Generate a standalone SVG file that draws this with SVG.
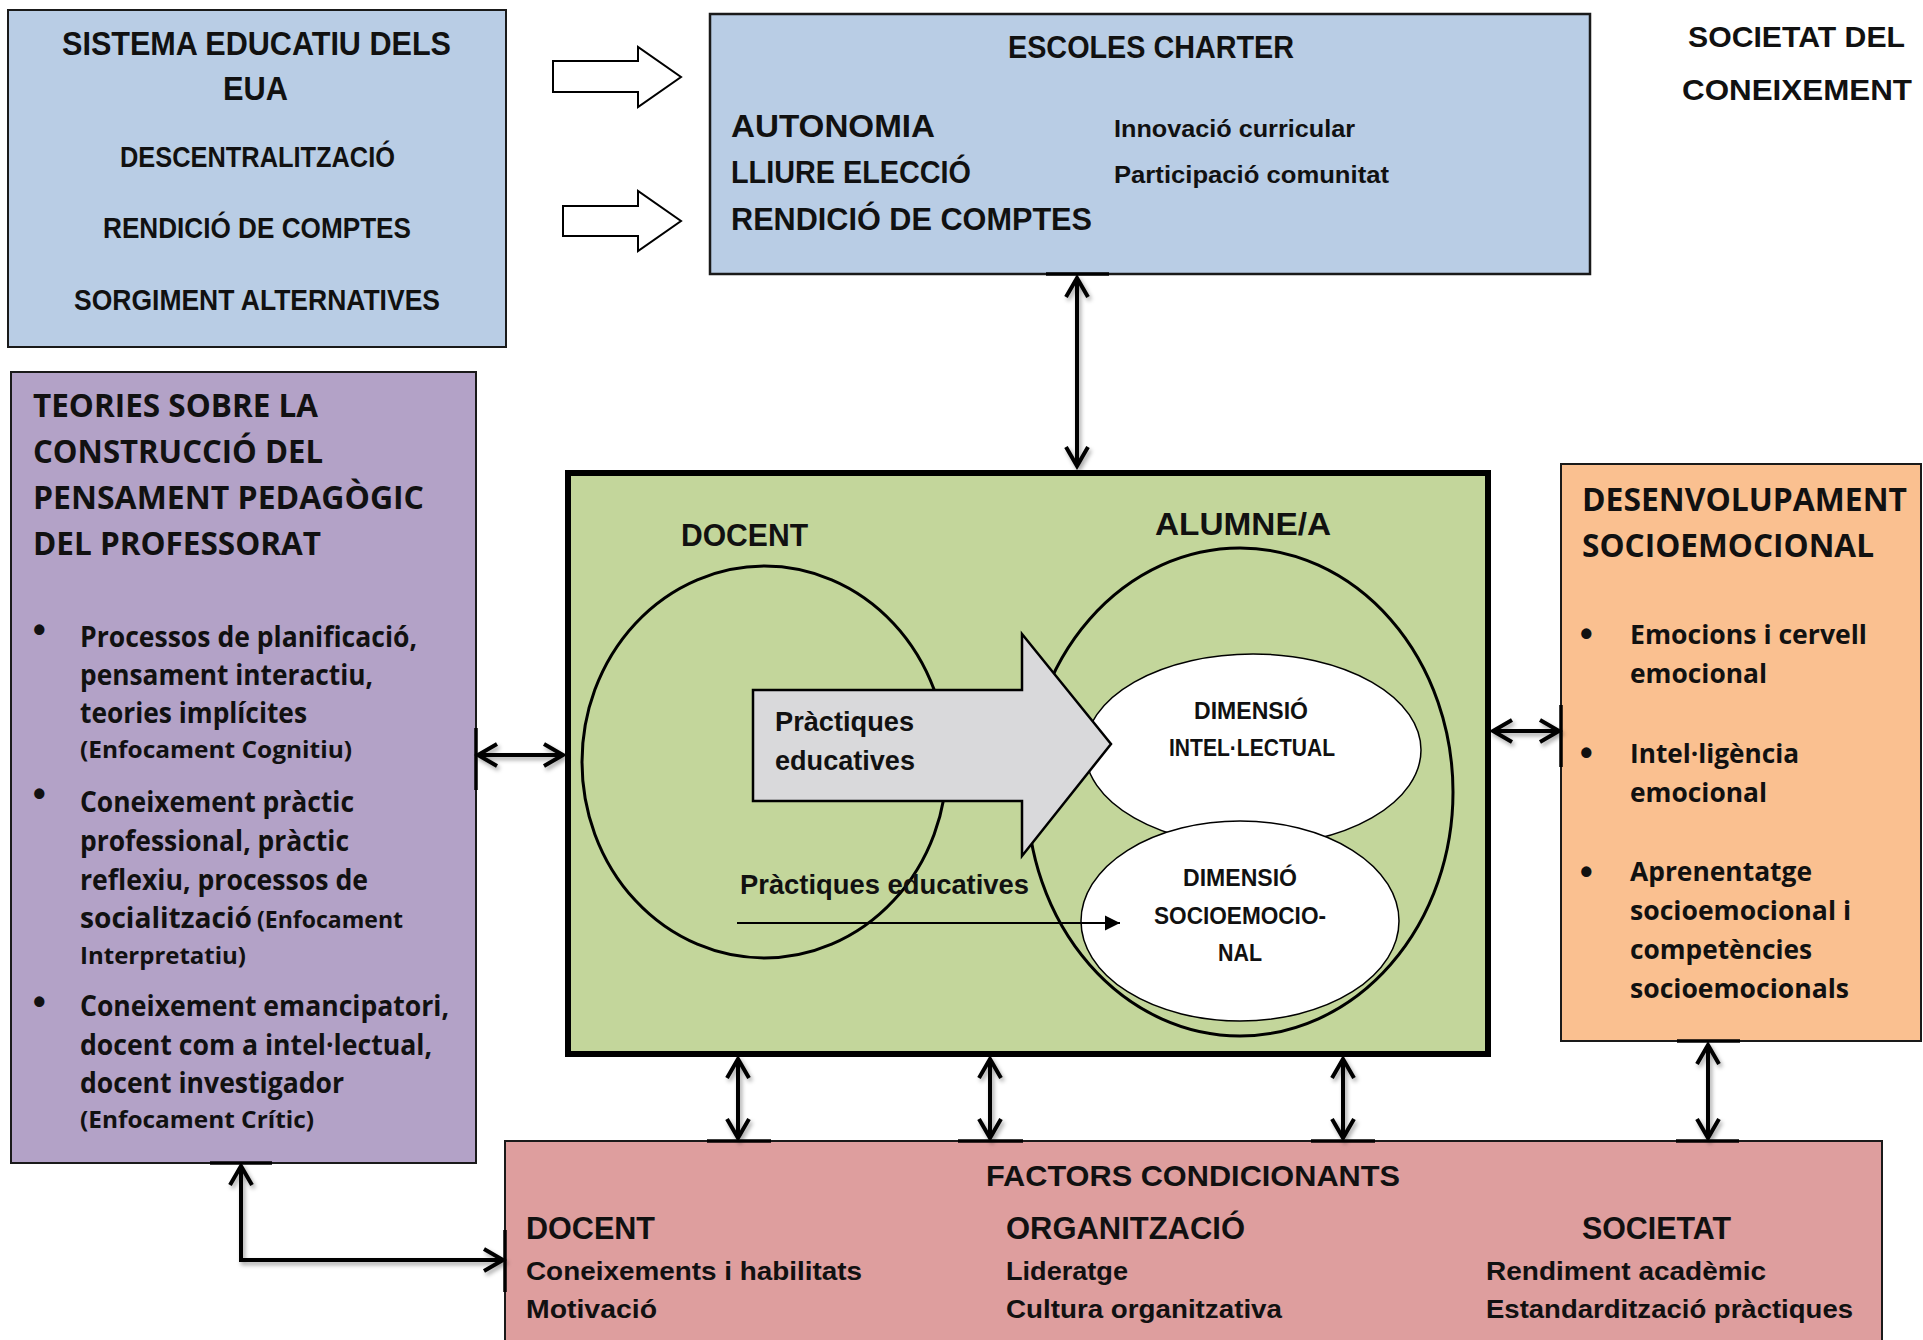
<svg xmlns="http://www.w3.org/2000/svg" width="1923" height="1340" viewBox="0 0 1923 1340">
<style>
.c{font-family:"Liberation Sans",Arial,sans-serif;font-weight:bold;fill:#111;}
.o{font-family:"Open Sans","Liberation Sans",sans-serif;font-weight:bold;fill:#111;}
.box{stroke:#1a1a1a;stroke-width:2;}
.conn{fill:none;stroke:#000;stroke-width:4;}
.tab{stroke:#000;stroke-width:3.5;fill:none;}
.blk{fill:#fff;stroke:#000;stroke-width:2;}
</style>
<defs>
<marker id="chev" markerUnits="userSpaceOnUse" markerWidth="26" markerHeight="30" viewBox="-22 -15 26 30" refX="0" refY="0" orient="auto-start-reverse" overflow="visible">
<path d="M -19 -11 L 0 0 L -19 11" fill="none" stroke="#000" stroke-width="4"/>
</marker>
<marker id="tri" markerUnits="userSpaceOnUse" markerWidth="18" markerHeight="16" viewBox="-16 -8 18 16" refX="0" refY="0" orient="auto" overflow="visible">
<path d="M -15 -7.5 L 0 0 L -15 7.5 Z" fill="#000"/>
</marker>
<filter id="sh" x="-50%" y="-50%" width="200%" height="200%">
<feDropShadow dx="2" dy="3" stdDeviation="2" flood-color="#000" flood-opacity="0.35"/>
</filter>
</defs>

<g id="sistema-educatiu">
<rect class="box" x="8" y="10" width="498" height="337" fill="#b9cde5"/>
<text class="c" x="62" y="55" font-size="33" textLength="389" lengthAdjust="spacingAndGlyphs">SISTEMA EDUCATIU DELS</text>
<text class="c" x="223" y="100" font-size="33" textLength="65" lengthAdjust="spacingAndGlyphs">EUA</text>
<text class="c" x="120" y="167" font-size="29" textLength="275" lengthAdjust="spacingAndGlyphs">DESCENTRALITZACIÓ</text>
<text class="c" x="103" y="238" font-size="29" textLength="308" lengthAdjust="spacingAndGlyphs">RENDICIÓ DE COMPTES</text>
<text class="c" x="74" y="310" font-size="29" textLength="366" lengthAdjust="spacingAndGlyphs">SORGIMENT ALTERNATIVES</text>
</g>

<g id="block-arrow-1">
<polygon class="blk" points="553,61 638,61 638,47 681,77 638,107 638,92 553,92"/>
</g>
<g id="block-arrow-2">
<polygon class="blk" points="563,206 638,206 638,191 681,221 638,251 638,236 563,236"/>
</g>

<g id="escoles-charter">
<rect x="710" y="14" width="880" height="260" fill="#b9cde5" stroke="#1a1a1a" stroke-width="2.5"/>
<text class="c" x="1008" y="58" font-size="31" textLength="286" lengthAdjust="spacingAndGlyphs">ESCOLES CHARTER</text>
<text class="c" x="731" y="137" font-size="31" textLength="204" lengthAdjust="spacingAndGlyphs">AUTONOMIA</text>
<text class="c" x="731" y="183" font-size="31" textLength="240" lengthAdjust="spacingAndGlyphs">LLIURE ELECCIÓ</text>
<text class="c" x="731" y="230" font-size="31" textLength="361" lengthAdjust="spacingAndGlyphs">RENDICIÓ DE COMPTES</text>
<text class="c" x="1114" y="137" font-size="23.5" textLength="241" lengthAdjust="spacingAndGlyphs">Innovació curricular</text>
<text class="c" x="1114" y="183" font-size="23.5" textLength="275" lengthAdjust="spacingAndGlyphs">Participació comunitat</text>
</g>

<g id="societat-coneixement">
<text class="c" x="1688" y="47" font-size="30" textLength="217" lengthAdjust="spacingAndGlyphs">SOCIETAT DEL</text>
<text class="c" x="1682" y="100" font-size="30" textLength="230" lengthAdjust="spacingAndGlyphs">CONEIXEMENT</text>
</g>

<g id="teories">
<rect class="box" x="11" y="372" width="465" height="791" fill="#b3a2c7"/>
<text class="o" x="33" y="417" font-size="32" textLength="285" lengthAdjust="spacingAndGlyphs">TEORIES SOBRE LA</text>
<text class="o" x="33" y="463" font-size="32" textLength="290" lengthAdjust="spacingAndGlyphs">CONSTRUCCIÓ DEL</text>
<text class="o" x="33" y="509" font-size="32" textLength="391" lengthAdjust="spacingAndGlyphs">PENSAMENT PEDAGÒGIC</text>
<text class="o" x="33" y="555" font-size="32" textLength="288" lengthAdjust="spacingAndGlyphs">DEL PROFESSORAT</text>
<text class="c" x="33" y="642" font-size="36">•</text>
<text class="c" x="33" y="806" font-size="36">•</text>
<text class="c" x="33" y="1014" font-size="36">•</text>
<text class="o" x="80" y="647" font-size="28" textLength="337" lengthAdjust="spacingAndGlyphs">Processos de planificació,</text>
<text class="o" x="80" y="685" font-size="28" textLength="293" lengthAdjust="spacingAndGlyphs">pensament interactiu,</text>
<text class="o" x="80" y="723" font-size="28" textLength="227" lengthAdjust="spacingAndGlyphs">teories implícites</text>
<text class="o" x="80" y="758" font-size="24" textLength="272" lengthAdjust="spacingAndGlyphs">(Enfocament Cognitiu)</text>
<text class="o" x="80" y="812" font-size="28" textLength="274" lengthAdjust="spacingAndGlyphs">Coneixement pràctic</text>
<text class="o" x="80" y="851" font-size="28" textLength="269" lengthAdjust="spacingAndGlyphs">professional, pràctic</text>
<text class="o" x="80" y="890" font-size="28" textLength="288" lengthAdjust="spacingAndGlyphs">reflexiu, processos de</text>
<text class="o" x="80" y="928" font-size="28" textLength="172" lengthAdjust="spacingAndGlyphs">socialització</text>
<text class="o" x="257" y="928" font-size="24" textLength="146" lengthAdjust="spacingAndGlyphs">(Enfocament</text>
<text class="o" x="80" y="964" font-size="24" textLength="166" lengthAdjust="spacingAndGlyphs">Interpretatiu)</text>
<text class="o" x="80" y="1016" font-size="28" textLength="369" lengthAdjust="spacingAndGlyphs">Coneixement emancipatori,</text>
<text class="o" x="80" y="1055" font-size="28" textLength="352" lengthAdjust="spacingAndGlyphs">docent com a intel·lectual,</text>
<text class="o" x="80" y="1093" font-size="28" textLength="264" lengthAdjust="spacingAndGlyphs">docent investigador</text>
<text class="o" x="80" y="1128" font-size="24" textLength="234" lengthAdjust="spacingAndGlyphs">(Enfocament Crític)</text>
</g>

<g id="docent-alumne">
<rect x="568" y="473" width="920" height="581" fill="#c3d69b" stroke="#000" stroke-width="6"/>
<ellipse cx="764.5" cy="762" rx="182.5" ry="196" fill="none" stroke="#000" stroke-width="3"/>
<ellipse cx="1240" cy="792" rx="213" ry="244" fill="none" stroke="#000" stroke-width="3"/>
<text class="c" x="681" y="546" font-size="32" textLength="127" lengthAdjust="spacingAndGlyphs">DOCENT</text>
<text class="c" x="1155" y="535" font-size="32" textLength="176" lengthAdjust="spacingAndGlyphs">ALUMNE/A</text>
</g>

<g id="dimensio-intellectual">
<ellipse cx="1253" cy="750" rx="168" ry="96" fill="#fff" stroke="#000" stroke-width="1.5"/>
<text class="c" x="1194" y="719" font-size="23.5" textLength="114" lengthAdjust="spacingAndGlyphs">DIMENSIÓ</text>
<text class="c" x="1169" y="756" font-size="23.5" textLength="166" lengthAdjust="spacingAndGlyphs">INTEL·LECTUAL</text>
</g>

<g id="dimensio-socioemocional">
<ellipse cx="1240" cy="921" rx="159" ry="100" fill="#fff" stroke="#000" stroke-width="1.5"/>
<text class="c" x="1183" y="886" font-size="23.5" textLength="114" lengthAdjust="spacingAndGlyphs">DIMENSIÓ</text>
<text class="c" x="1154" y="924" font-size="23.5" textLength="172" lengthAdjust="spacingAndGlyphs">SOCIOEMOCIO-</text>
<text class="c" x="1218" y="961" font-size="23.5" textLength="44" lengthAdjust="spacingAndGlyphs">NAL</text>
</g>

<g id="practiques-arrow">
<polygon points="753,690 1022,690 1022,634 1111,744 1022,856 1022,801 753,801" fill="#d9d9db" stroke="#000" stroke-width="2.5"/>
<text class="c" x="775" y="731" font-size="28" textLength="139" lengthAdjust="spacingAndGlyphs">Pràctiques</text>
<text class="c" x="775" y="770" font-size="28" textLength="140" lengthAdjust="spacingAndGlyphs">educatives</text>
</g>

<g id="practiques-line">
<text class="c" x="740" y="894" font-size="28" textLength="289" lengthAdjust="spacingAndGlyphs">Pràctiques educatives</text>
<line x1="737" y1="923" x2="1120" y2="923" stroke="#000" stroke-width="2" marker-end="url(#tri)"/>
</g>

<g id="desenvolupament">
<rect class="box" x="1561" y="464" width="360" height="577" fill="#fac090"/>
<text class="o" x="1582" y="511" font-size="32" textLength="325" lengthAdjust="spacingAndGlyphs">DESENVOLUPAMENT</text>
<text class="o" x="1582" y="557" font-size="32" textLength="292" lengthAdjust="spacingAndGlyphs">SOCIOEMOCIONAL</text>
<text class="c" x="1580" y="646" font-size="36">•</text>
<text class="c" x="1580" y="765" font-size="36">•</text>
<text class="c" x="1580" y="884" font-size="36">•</text>
<text class="o" x="1630" y="644" font-size="27.5" textLength="237" lengthAdjust="spacingAndGlyphs">Emocions i cervell</text>
<text class="o" x="1630" y="683" font-size="27.5" textLength="137" lengthAdjust="spacingAndGlyphs">emocional</text>
<text class="o" x="1630" y="763" font-size="27.5" textLength="169" lengthAdjust="spacingAndGlyphs">Intel·ligència</text>
<text class="o" x="1630" y="802" font-size="27.5" textLength="137" lengthAdjust="spacingAndGlyphs">emocional</text>
<text class="o" x="1630" y="881" font-size="27.5" textLength="182" lengthAdjust="spacingAndGlyphs">Aprenentatge</text>
<text class="o" x="1630" y="920" font-size="27.5" textLength="221" lengthAdjust="spacingAndGlyphs">socioemocional i</text>
<text class="o" x="1630" y="959" font-size="27.5" textLength="182" lengthAdjust="spacingAndGlyphs">competències</text>
<text class="o" x="1630" y="998" font-size="27.5" textLength="219" lengthAdjust="spacingAndGlyphs">socioemocionals</text>
</g>

<g id="factors-condicionants">
<rect class="box" x="505" y="1141" width="1377" height="220" fill="#de9e9e"/>
<text class="c" x="986" y="1186" font-size="30" textLength="414" lengthAdjust="spacingAndGlyphs">FACTORS CONDICIONANTS</text>
<text class="c" x="526" y="1239" font-size="32" textLength="129" lengthAdjust="spacingAndGlyphs">DOCENT</text>
<text class="c" x="526" y="1280" font-size="26.5" textLength="336" lengthAdjust="spacingAndGlyphs">Coneixements i habilitats</text>
<text class="c" x="526" y="1318" font-size="26.5" textLength="131" lengthAdjust="spacingAndGlyphs">Motivació</text>
<text class="c" x="1006" y="1239" font-size="32" textLength="239" lengthAdjust="spacingAndGlyphs">ORGANITZACIÓ</text>
<text class="c" x="1006" y="1280" font-size="26.5" textLength="122" lengthAdjust="spacingAndGlyphs">Lideratge</text>
<text class="c" x="1006" y="1318" font-size="26.5" textLength="276" lengthAdjust="spacingAndGlyphs">Cultura organitzativa</text>
<text class="c" x="1582" y="1239" font-size="32" textLength="149" lengthAdjust="spacingAndGlyphs">SOCIETAT</text>
<text class="c" x="1486" y="1280" font-size="26.5" textLength="280" lengthAdjust="spacingAndGlyphs">Rendiment acadèmic</text>
<text class="c" x="1486" y="1318" font-size="26.5" textLength="367" lengthAdjust="spacingAndGlyphs">Estandardització pràctiques</text>
</g>

<g id="connectors">
<g id="tabs">
<line class="tab" x1="1046" y1="274" x2="1109" y2="274"/>
<line class="tab" x1="1047" y1="472" x2="1108" y2="472" stroke-width="7"/>
<line class="tab" x1="476" y1="728" x2="476" y2="790"/>
<line class="tab" x1="568" y1="726" x2="568" y2="790" stroke-width="7"/>
<line class="tab" x1="1488" y1="705" x2="1488" y2="767" stroke-width="7"/>
<line class="tab" x1="1561" y1="705" x2="1561" y2="767"/>
<line class="tab" x1="707" y1="1055" x2="771" y2="1055" stroke-width="7"/>
<line class="tab" x1="958" y1="1055" x2="1023" y2="1055" stroke-width="7"/>
<line class="tab" x1="1311" y1="1055" x2="1375" y2="1055" stroke-width="7"/>
<line class="tab" x1="707" y1="1141" x2="771" y2="1141"/>
<line class="tab" x1="958" y1="1141" x2="1023" y2="1141"/>
<line class="tab" x1="1311" y1="1141" x2="1375" y2="1141"/>
<line class="tab" x1="1676" y1="1141" x2="1739" y2="1141"/>
<line class="tab" x1="1677" y1="1041" x2="1740" y2="1041"/>
<line class="tab" x1="210" y1="1163" x2="272" y2="1163"/>
<line class="tab" x1="505" y1="1230" x2="505" y2="1292"/>
</g>
<g filter="url(#sh)">
<line class="conn" x1="1077" y1="278" x2="1077" y2="466" marker-start="url(#chev)" marker-end="url(#chev)"/>
<line class="conn" x1="478" y1="755" x2="563" y2="755" marker-start="url(#chev)" marker-end="url(#chev)"/>
<line class="conn" x1="1493" y1="731" x2="1559" y2="731" marker-start="url(#chev)" marker-end="url(#chev)"/>
<line class="conn" x1="738" y1="1059" x2="738" y2="1138" marker-start="url(#chev)" marker-end="url(#chev)"/>
<line class="conn" x1="990" y1="1059" x2="990" y2="1138" marker-start="url(#chev)" marker-end="url(#chev)"/>
<line class="conn" x1="1343" y1="1059" x2="1343" y2="1138" marker-start="url(#chev)" marker-end="url(#chev)"/>
<line class="conn" x1="1708" y1="1045" x2="1708" y2="1138" marker-start="url(#chev)" marker-end="url(#chev)"/>
<path class="conn" d="M 241 1166 V 1260 H 503" marker-start="url(#chev)" marker-end="url(#chev)"/>
</g>
</g>
</svg>
